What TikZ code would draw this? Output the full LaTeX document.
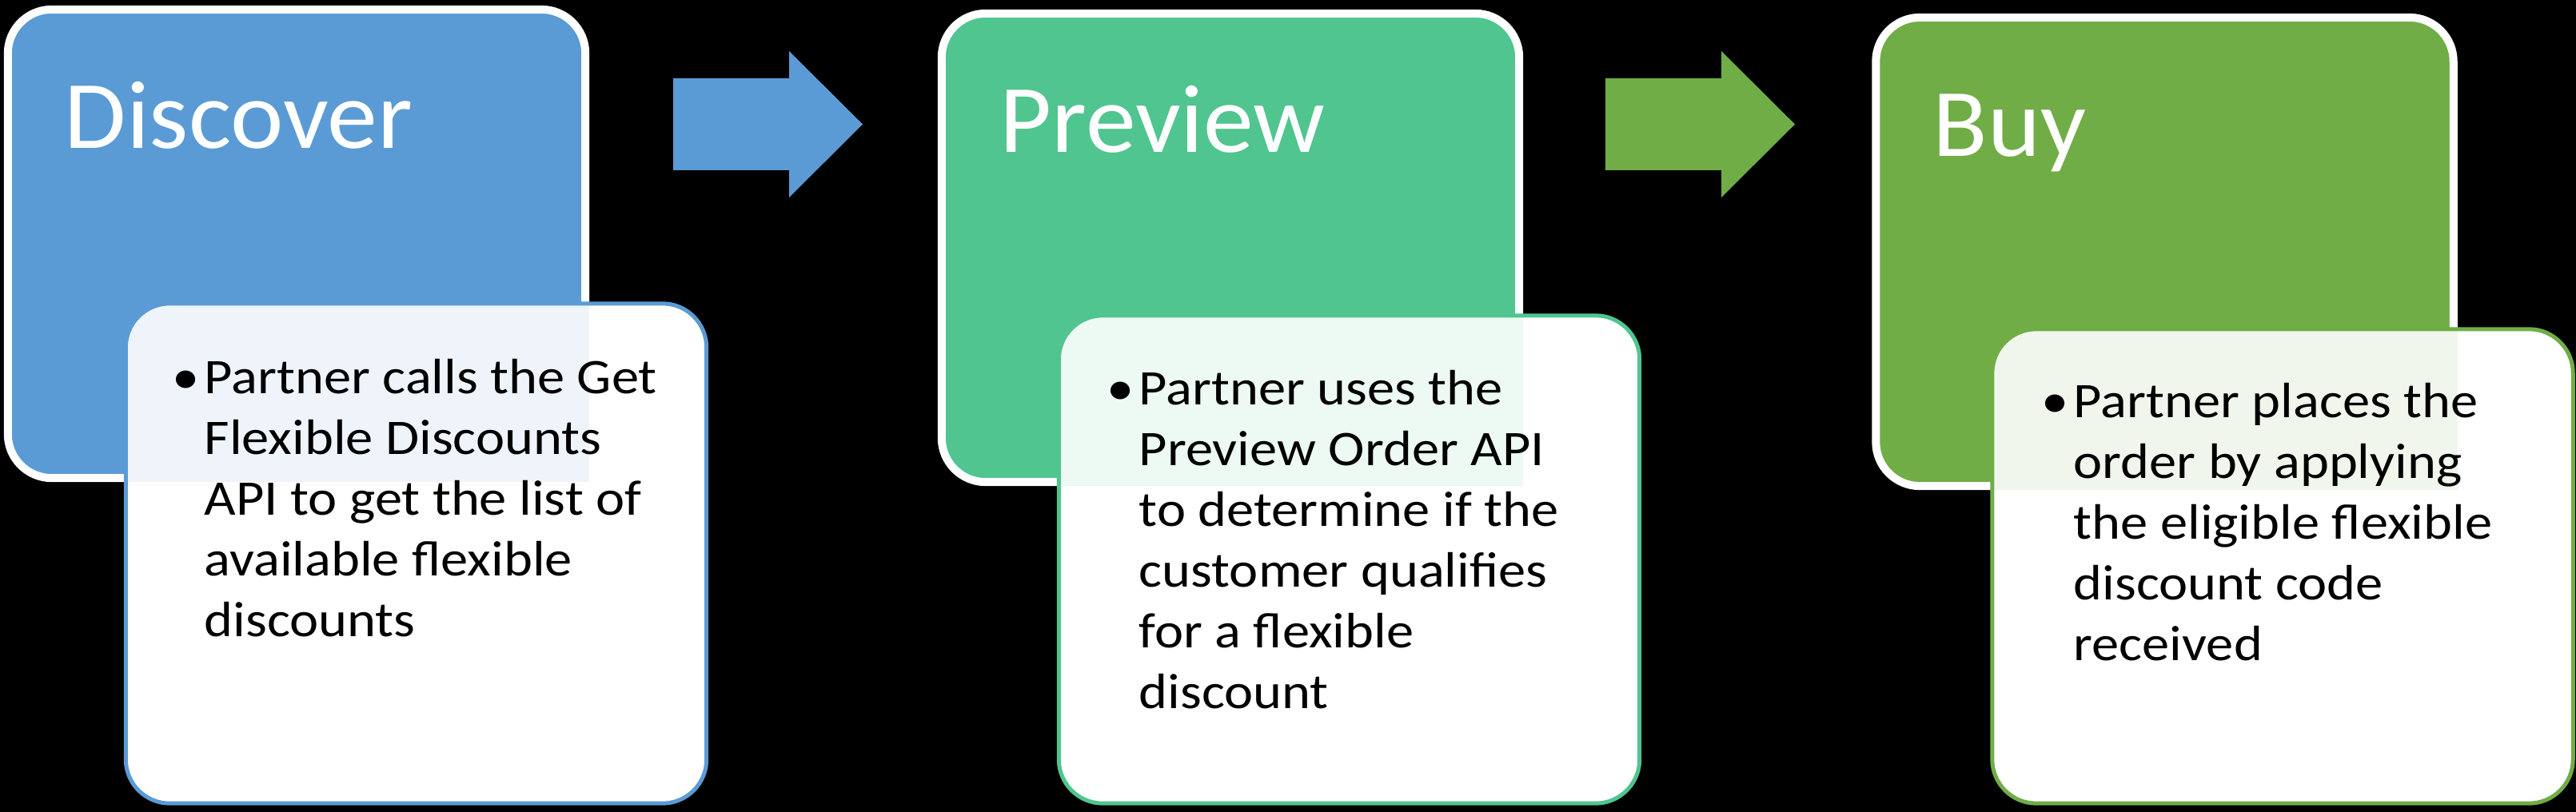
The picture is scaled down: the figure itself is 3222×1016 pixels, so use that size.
\documentclass[tikz,border=0pt]{standalone}
\usepackage{fontspec}
\setmainfont{Carlito}
\newfontfamily\titlefont[FakeStretch=1.04]{Carlito}
\newfontfamily\notefont[FakeStretch=1.1]{Carlito}
\usetikzlibrary{positioning}

\definecolor{discoverblue}{HTML}{5B9BD5}
\definecolor{previewgreen}{RGB}{80,197,143}
\definecolor{buygreen}{HTML}{70AD47}

\newcommand{\stagetitle}{\titlefont\fontsize{34.4pt}{40pt}\selectfont}
\newcommand{\notetext}[1]{\notefont\fontsize{17.7pt}{21.6pt}\selectfont
  \makebox[0.40cm][l]{\textbullet}\parbox[t]{6cm}{#1}}

\begin{document}
\begin{tikzpicture}[x=0.01cm, y=-0.01cm,
    stagebox/.style={rectangle, rounded corners=0.55cm, draw=white, line width=0.1cm,
      inner sep=0pt, minimum width=7.22cm, minimum height=5.86cm},
    notebox/.style={rectangle, rounded corners=0.55cm, fill=white,
      line width=0.05cm, inner sep=0pt, minimum width=7.26cm},
    titletext/.style={text=white, font=\stagetitle, inner sep=0pt, anchor=base west},
    bodytext/.style={text=black, inner sep=0pt, anchor=base west}]

    % Hintergrund
    \fill[black] (0,0) rectangle (3222,1016);
    \useasboundingbox (0,0) rectangle (3222,1016);

    % Discover
    \node[stagebox, fill=discoverblue] (disc) at (371,305) {};
    \node[titletext] (disctitle) at (80,186) {Discover};
    \node[notebox, draw=discoverblue, minimum height=6.25cm] (discnote) at (520.5,692.5) {};
    \begin{scope}
      \clip[rounded corners=0.55cm] (discnote.south west) rectangle (discnote.north east);
      \fill[discoverblue, opacity=0.1] (disc.south west) rectangle (disc.north east);
    \end{scope}
    \node[bodytext] (disctext) at (215,493) {\notetext{Partner calls the Get\\
      Flexible Discounts\\ API to get the list of\\ available flexible\\ discounts}};

    % Preview
    \node[stagebox, fill=previewgreen] (prev) at (1539,310) {};
    \node[titletext] (prevtitle) at (1250,191) {Preview};
    \node[notebox, draw=previewgreen, minimum height=6.10cm] (prevnote) at (1687.5,700) {};
    \begin{scope}
      \clip[rounded corners=0.55cm] (prevnote.south west) rectangle (prevnote.north east);
      \fill[previewgreen, opacity=0.1] (prev.south west) rectangle (prev.north east);
    \end{scope}
    \node[bodytext] (prevtext) at (1384,507) {\notetext{Partner uses the\\
      Preview Order API\\ to determine if the\\ customer qualifies\\ for a flexible\\ discount}};

    % Buy
    \node[stagebox, fill=buygreen] (buy) at (2707.5,315) {};
    \node[titletext] (buytitle) at (2417,196) {Buy};
    \node[notebox, draw=buygreen, minimum height=5.93cm] (buynote) at (2855,708.5) {};
    \begin{scope}
      \clip[rounded corners=0.55cm] (buynote.south west) rectangle (buynote.north east);
      \fill[buygreen, opacity=0.1] (buy.south west) rectangle (buy.north east);
    \end{scope}
    \node[bodytext] (buytext) at (2553,523) {\notetext{Partner places the\\
      order by applying\\ the eligible flexible\\ discount code\\ received}};

    % Pfeile zwischen den Phasen
    \coordinate (arr1) at (842,155.5);
    \fill[discoverblue] (arr1) ++(0,-57.5) -- ++(145,0) -- ++(0,-34) -- ++(92,91.5)
      -- ++(-92,91.5) -- ++(0,-34) -- ++(-145,0) -- cycle;
    \coordinate (arr2) at (2008,155.5);
    \fill[buygreen] (arr2) ++(0,-57.5) -- ++(145,0) -- ++(0,-34) -- ++(92,91.5)
      -- ++(-92,91.5) -- ++(0,-34) -- ++(-145,0) -- cycle;
\end{tikzpicture}
\end{document}
